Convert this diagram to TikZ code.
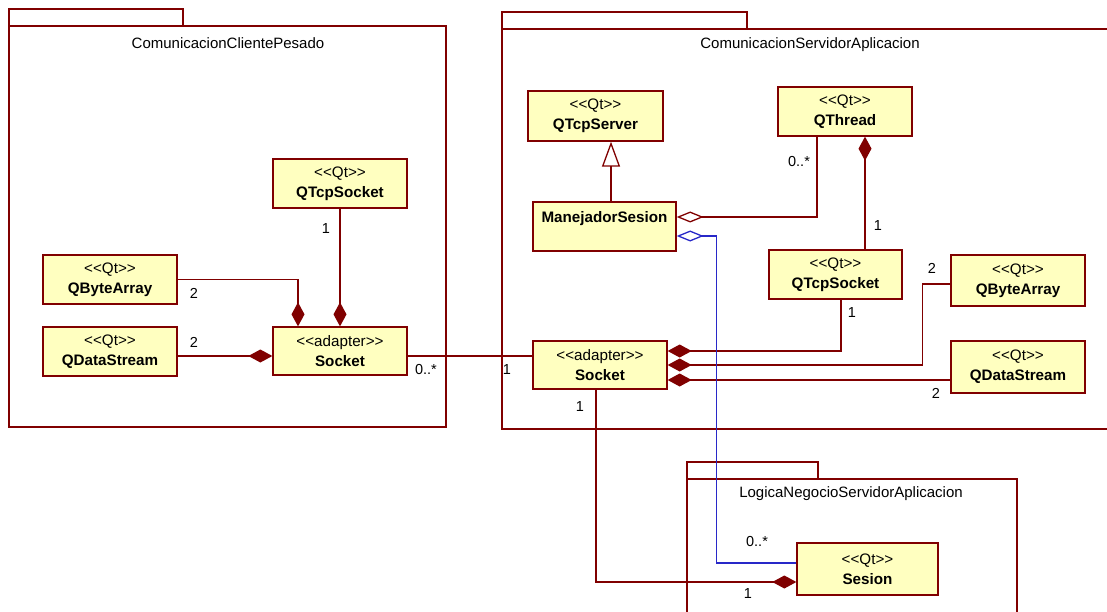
\documentclass[tikz,border=0pt]{standalone}
\usepackage{fontspec}
\setmainfont{Liberation Sans}
\usetikzlibrary{arrows.meta}
\definecolor{umlline}{RGB}{128,0,0}
\definecolor{umlfill}{RGB}{255,255,192}
\definecolor{umlblue}{RGB}{40,40,200}
\newcommand{\stereo}[1]{<\kern0pt<#1>\kern0pt>}

\begin{document}
\begin{tikzpicture}[x=1pt,y=-1pt,
    pkg/.style={draw=umlline,line width=1.3pt},
    cls/.style={rectangle,draw=umlline,fill=umlfill,line width=1.3pt,
        minimum width=134pt,minimum height=49pt,inner sep=0pt,align=center,
        font=\fontsize{15.2}{20}\selectfont},
    mult/.style={font=\fontsize{14.5}{16}\selectfont,inner sep=0pt},
    compo/.style={-{Diamond[length=24pt,width=13pt,fill=umlline]}},
    compostart/.style={{Diamond[length=24pt,width=13pt,fill=umlline]}-},
    aggr/.style={{Diamond[open,length=27pt,width=11pt]}-},
    gener/.style={-{Triangle[open,length=25pt,width=18pt]}}]

    \clip (0,0) rectangle (1107,612);

    % packages
    \begin{scope}[pkg]
        \draw (9,9) rectangle (183,26);
        \draw (9,26) rectangle (446,427);
        \draw (502,12) rectangle (747,29);
        \draw (502,29) rectangle (1125,429);
        \draw (687,462) rectangle (818,479);
        \draw (687,479) rectangle (1017,630);
    \end{scope}
    \node[font=\fontsize{15}{16}\selectfont] (PkgCliente) at (228,43) {ComunicacionClientePesado};
    \node[font=\fontsize{15}{16}\selectfont] (PkgServidor) at (810,45) {ComunicacionServidorAplicacion};
    \node[font=\fontsize{15}{16}\selectfont] (PkgLogica) at (851,494) {LogicaNegocioServidorAplicacion};

    % classes
    \begin{scope}[every node/.style={cls}]
        \node (TcpL) at (340,183.5) {\stereo{Qt}\\\textbf{QTcpSocket}};
        \node (ByteL) at (110,279.5) {\stereo{Qt}\\\textbf{QByteArray}};
        \node (StreamL) at (110,351.5) {\stereo{Qt}\\\textbf{QDataStream}};
        \node[minimum height=48pt] (SockL) at (340,351) {\stereo{adapter}\\\textbf{Socket}};
        \node[minimum width=135pt,minimum height=50pt] (Server) at (595.5,116) {\stereo{Qt}\\\textbf{QTcpServer}};
        \node (Thread) at (845,111.5) {\stereo{Qt}\\\textbf{QThread}};
        \node[minimum width=143pt] (Manejador) at (604.5,226.5) {\textbf{ManejadorSesion}\\\mbox{}};
        \node[minimum width=133pt] (TcpR) at (835.5,274.5) {\stereo{Qt}\\\textbf{QTcpSocket}};
        \node[minimum height=51pt] (ByteR) at (1018,280.5) {\stereo{Qt}\\\textbf{QByteArray}};
        \node[minimum height=52pt] (StreamR) at (1018,367) {\stereo{Qt}\\\textbf{QDataStream}};
        \node[minimum height=48pt] (SockR) at (600,365) {\stereo{adapter}\\\textbf{Socket}};
        \node[minimum width=141pt,minimum height=52pt] (Sesion) at (867.5,569) {\stereo{Qt}\\\textbf{Sesion}};
    \end{scope}

    % connectors
    \coordinate (dsL) at ([yshift=-4.5pt]StreamL.east);
    \coordinate (lnk) at ([yshift=-5pt]SockL.east);
    \coordinate (dsR) at ([yshift=-13pt]StreamR.west);
    \begin{scope}[every path/.style={draw=umlline,line width=1.3pt}]
        \path [compo] (ByteL.east) -| ([xshift=-42pt]SockL.north);
        \path [compo] (TcpL.south) -- (SockL.north);
        \path [compo] (dsL) -- (dsL -| SockL.west);
        \path (lnk) -- (lnk -| SockR.west);
        \path [gener] ([xshift=6.5pt]Manejador.north) -- ([xshift=15.5pt]Server.south);
        \path [aggr] ([yshift=9.5pt]Manejador.east) -| ([xshift=-28pt]Thread.south);
        \path [compostart] ([xshift=20pt]Thread.south) -- ([xshift=29.5pt]TcpR.north);
        \path [compo] ([xshift=5.5pt]TcpR.south) |- ([yshift=14pt]SockR.east);
        \path [compo] ([yshift=-3.5pt]ByteR.west) -- ++(-28,0) |- (SockR.east);
        \path [compo] (dsR) -- (dsR -| SockR.east);
        \path [compo] ([xshift=-4pt]SockR.south) |- ([yshift=-13pt]Sesion.west);
        \path [aggr,draw=umlblue] ([yshift=-9.5pt]Manejador.east) -- ++(40,0) |- ([yshift=6pt]Sesion.west);
    \end{scope}

    % multiplicities
    \begin{scope}[every node/.style={mult}]
        \node (mTcpL) at (326,229) {1};
        \node (mByteL) at (194,293) {2};
        \node (mStreamL) at (194,342) {2};
        \node (mSockL) at (426,370) {0..*};
        \node (mSockR) at (507,370) {1};
        \node (mThreadM) at (799,162) {0..*};
        \node (mThreadT) at (878,226) {1};
        \node (mTcpR) at (852,313) {1};
        \node (mByteR) at (932,268) {2};
        \node (mStreamR) at (936,393) {2};
        \node (mSockSes) at (580,407) {1};
        \node (mSesionM) at (757,542) {0..*};
        \node (mSesionS) at (748,594) {1};
    \end{scope}
\end{tikzpicture}
\end{document}
